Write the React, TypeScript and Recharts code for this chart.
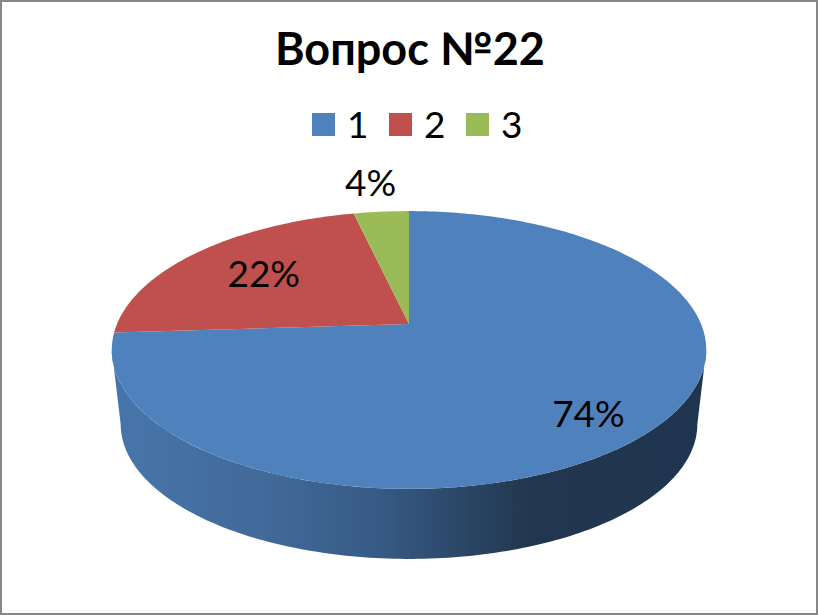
import { Legend, Pie, PieChart } from "recharts";

const categories = ["1", "2", "3"];
const shares = [74, 22.4, 3.6];
const colors = ["#4f81bd", "#c0504d", "#9bbb59"];

const data = categories.map((name, i) => ({ name, value: shares[i], fill: colors[i] }));

const FONT = "Lato, Carlito, 'Open Sans', sans-serif";
const RAD = Math.PI / 180;

// tilt of the pie: maps the flat circle onto the perspective ellipse
const TILT = 0.187;
const SQUASH = 0.459;
const DEPTH = 75;
const BOTTOM_SCALE = 0.97;
// side wall only shows between these two angles
const WALL_FROM = -10.8;
const WALL_TO = -169.2;
// radial position of each percent label, as x and y fractions of the radius
const LABEL_FACTORS = [
  [0.735, 0.84],
  [0.69, 0.72],
  [1.38, 1.27],
];

function project(cx: number, cy: number, r: number, deg: number) {
  const u = Math.cos(deg * RAD);
  const v = Math.sin(deg * RAD);
  const d = 1 + TILT * v;
  return { x: cx + (r * u) / d, y: cy - (r * SQUASH * v) / d };
}

function sweep(cx: number, cy: number, r: number, from: number, to: number) {
  const steps = Math.max(2, Math.ceil(Math.abs(from - to)));
  const pts = [];
  for (let i = 0; i <= steps; i++) {
    const p = project(cx, cy, r, from + ((to - from) * i) / steps);
    pts.push(`${p.x.toFixed(2)} ${p.y.toFixed(2)}`);
  }
  return pts;
}

function TopFace(props: any) {
  const { cx, cy, outerRadius, startAngle, endAngle, fill } = props;
  const arc = sweep(cx, cy, outerRadius, startAngle, endAngle);
  return <path d={`M${cx} ${cy}L${arc.join("L")}Z`} fill={fill} stroke="none" />;
}

function SideWall(props: any) {
  const { cx, cy, outerRadius, startAngle, endAngle, index } = props;
  const from = Math.min(startAngle, WALL_FROM);
  const to = Math.max(endAngle, WALL_TO);
  if (from <= to) return null;
  const upper = sweep(cx, cy, outerRadius, from, to);
  // the bottom rim sits lower and a little narrower
  const lower = sweep(cx, cy + DEPTH, outerRadius * BOTTOM_SCALE, to, from);
  return <path d={`M${upper.concat(lower).join("L")}Z`} fill={`url(#wall${index})`} stroke="none" />;
}

function percentLabel(props: any) {
  const { cx, cy, midAngle, outerRadius, percent, index } = props;
  const [fx, fy] = LABEL_FACTORS[index];
  const px = project(cx, cy, outerRadius * fx, midAngle);
  const py = project(cx, cy, outerRadius * fy, midAngle);
  return (
    <text
      x={px.x}
      y={py.y}
      textAnchor="middle"
      dominantBaseline="central"
      fill="#000"
      fontFamily={FONT}
      fontSize={37}
    >
      {`${Math.round(percent * 100)}%`}
    </text>
  );
}

function LegendRow({ payload }: any) {
  // the wall pie also reports entries, keep the ones of the top faces
  const items = payload.filter((item: any) => item.type !== "none");
  return (
    <div style={{ display: "flex", fontFamily: FONT, fontSize: 37, lineHeight: "36px", color: "#000" }}>
      {items.map((item: any) => (
        <div key={item.value} style={{ display: "flex", alignItems: "center", width: 77 }}>
          <span style={{ width: 23, height: 23, background: item.color, marginRight: 12 }} />
          <span>{item.value}</span>
        </div>
      ))}
    </div>
  );
}

export default function App() {
  return (
    <div style={{ position: "absolute", left: 0, top: 0, width: 818, height: 615, background: "#fff" }}>
      <style>{"body{margin:0}"}</style>
      <PieChart width={818} height={615} margin={{ top: 0, right: 0, bottom: 0, left: 0 }}>
        <defs>
          <linearGradient id="wall0" gradientUnits="userSpaceOnUse" x1={113} y1={0} x2={707} y2={0}>
            <stop offset="0" stopColor="#4775ab" />
            <stop offset="0.25" stopColor="#426a9a" />
            <stop offset="0.45" stopColor="#365a84" />
            <stop offset="0.7" stopColor="#22374f" />
            <stop offset="1" stopColor="#1f344e" />
          </linearGradient>
        </defs>
        <rect x={1} y={1} width={816} height={613} fill="none" stroke="#868686" strokeWidth={2} />
        <text
          x={410}
          y={65}
          textAnchor="middle"
          fontFamily={FONT}
          fontWeight={700}
          fontSize={45}
          fill="#000"
        >
          Вопрос №22
        </text>
        <Legend
          content={LegendRow}
          wrapperStyle={{ position: "absolute", left: 312, top: 106, width: 240, bottom: "auto" }}
        />
        <Pie
          data={data}
          dataKey="value"
          nameKey="name"
          cx={409}
          cy={324}
          outerRadius={292}
          startAngle={90}
          endAngle={-270}
          legendType="none"
          shape={SideWall}
          label={false}
          isAnimationActive={false}
        />
        <Pie
          data={data}
          dataKey="value"
          nameKey="name"
          cx={409}
          cy={324}
          outerRadius={292}
          startAngle={90}
          endAngle={-270}
          shape={TopFace}
          label={percentLabel}
          labelLine={false}
          isAnimationActive={false}
        />
      </PieChart>
    </div>
  );
}
